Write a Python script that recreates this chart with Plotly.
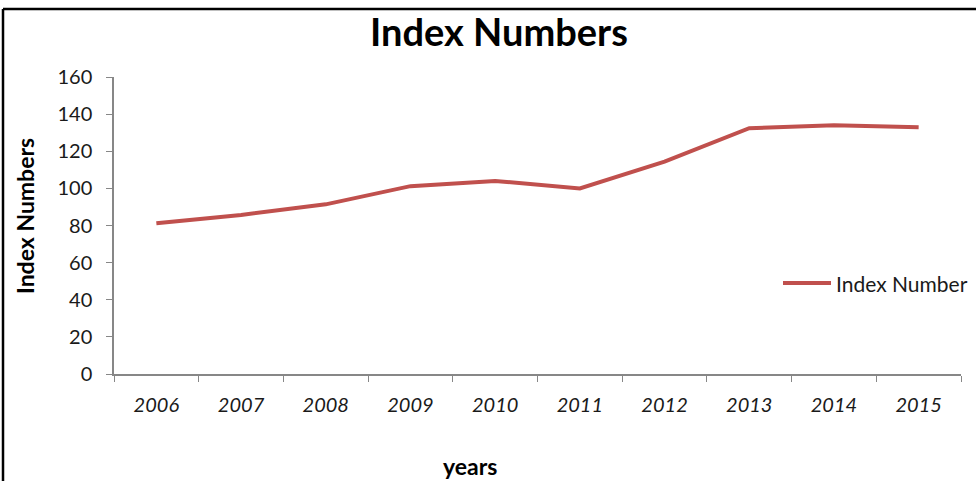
import plotly.graph_objects as go

years = ["2006", "2007", "2008", "2009", "2010", "2011", "2012", "2013", "2014", "2015"]
index_numbers = [81.2, 85.7, 91.4, 101.2, 104.0, 100.0, 114.4, 132.4, 134.0, 132.9]
y_ticks = [0, 20, 40, 60, 80, 100, 120, 140, 160]
series_name = "Index Number"

W, H = 976, 481
L, R, T, B = 114, 15, 77, 107
PW, PH = W - L - R, H - T - B


def px_x(x):
    return (x - L) / PW


def px_y(y):
    return (H - B - y) / PH


line_col = "#C0504D"

fig = go.Figure()
fig.add_trace(go.Scatter(
    x=years, y=index_numbers, mode="lines", name=series_name,
    line=dict(color=line_col, width=4),
))

font_fam = "Lato, 'Open Sans', sans-serif"
axis_col = "#878787"
txt_col = "#1a1a1a"

fig.update_layout(
    width=W, height=H,
    margin=dict(l=L, r=R, t=T, b=B, autoexpand=False),
    paper_bgcolor="white", plot_bgcolor="white",
    title=dict(text="<b>Index Numbers</b>", x=499 / W, xanchor="center",
               y=1 - 33 / H, yanchor="middle",
               font=dict(family=font_fam, size=38, color="black")),
    showlegend=False,
    xaxis=dict(
        type="category", range=[-0.5, 9.5],
        showline=True, linecolor=axis_col, linewidth=1.5,
        ticks="outside", ticklen=6, tickcolor=axis_col, tickson="boundaries",
        showgrid=False, zeroline=False, ticklabelstandoff=12,
        tickfont=dict(family=font_fam, size=20, color=txt_col, style="italic"),
    ),
    yaxis=dict(
        range=[0, 160], tickvals=y_ticks,
        showline=True, linecolor=axis_col, linewidth=1.5,
        ticks="outside", ticklen=6, tickcolor=axis_col,
        showgrid=False, zeroline=False, ticklabelstandoff=10,
        tickfont=dict(family=font_fam, size=20, color=txt_col),
    ),
)

# axis titles
fig.add_annotation(text="<b>years</b>", xref="paper", yref="paper",
                   x=px_x(470), y=px_y(466), showarrow=False,
                   xanchor="center", yanchor="middle",
                   font=dict(family=font_fam, size=23, color="black"))
fig.add_annotation(text="<b>Index Numbers</b>", xref="paper", yref="paper",
                   x=px_x(25), y=px_y(216), showarrow=False, textangle=-90,
                   xanchor="center", yanchor="middle",
                   font=dict(family=font_fam, size=23, color="black"))

# legend (key line + label), drawn so it can run off the right edge like the original
fig.add_shape(type="line", xref="paper", yref="paper",
              x0=px_x(783), x1=px_x(831), y0=px_y(283), y1=px_y(283),
              line=dict(color=line_col, width=4))
fig.add_annotation(text=series_name, xref="paper", yref="paper",
                   x=px_x(834), y=px_y(283), showarrow=False,
                   xanchor="left", yanchor="middle",
                   font=dict(family=font_fam, size=21, color=txt_col))

# outer chart frame (left and top borders visible)
fig.add_shape(type="line", xref="paper", yref="paper",
              x0=px_x(3), x1=px_x(3), y0=px_y(490), y1=px_y(9),
              line=dict(color="black", width=2.5))
fig.add_shape(type="line", xref="paper", yref="paper",
              x0=px_x(3), x1=px_x(990), y0=px_y(9), y1=px_y(9),
              line=dict(color="black", width=2.5))

fig.write_html("out.html")
